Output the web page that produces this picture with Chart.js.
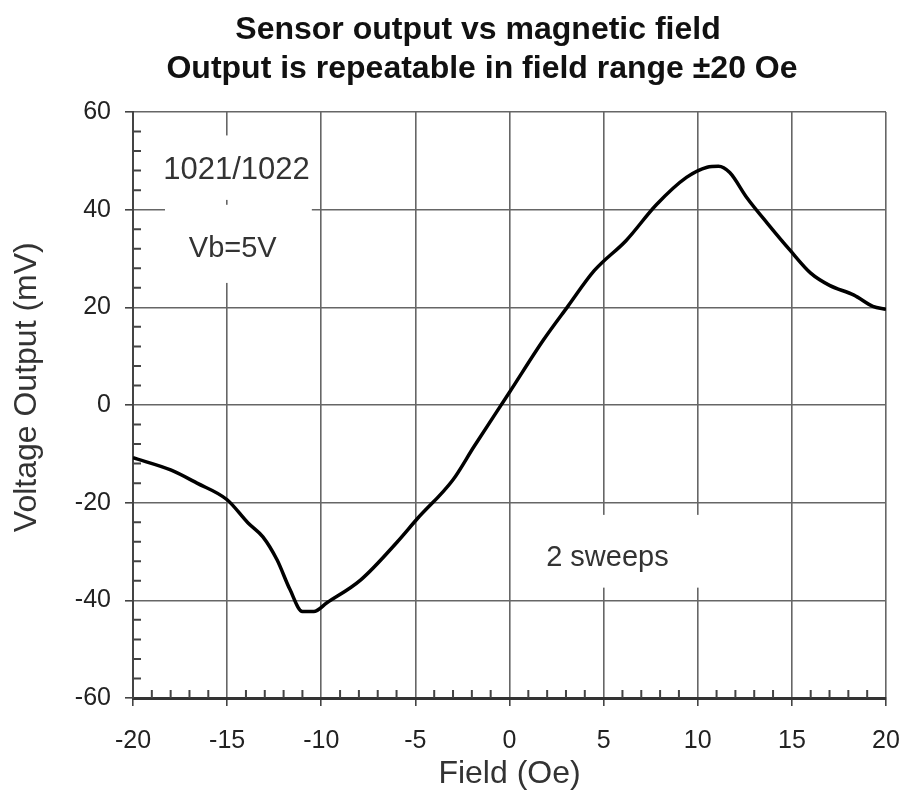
<!DOCTYPE html>
<html>
<head>
<meta charset="utf-8">
<script src="https://cdn.jsdelivr.net/npm/chart.js@4/dist/chart.umd.min.js"></script>
<style>
  html, body { margin: 0; padding: 0; background: #fff; }
  canvas { display: block; }
</style>
</head>
<body>
<canvas id="grafico" width="903" height="791"></canvas>
<script>
// ===== DADOS =====
const campo = [-20, -18, -16.6, -15, -13.9, -13.1, -12.35, -11.66, -11.0, -10.4, -9.7, -7.9, -6.0, -4.9, -3.0, -1.9, 0, 1.8, 3.1, 4.5, 6.2, 7.8, 9.4, 10.5, 11.1, 11.7, 12.6, 13.7, 14.9, 16.0, 17.0, 18.3, 19.3, 20];
const saida = [-10.8, -13.3, -16, -19.4, -24.1, -27, -31.7, -37.8, -42.3, -42.3, -40.5, -35.8, -28.2, -23.3, -15.3, -8.6, 2.6, 13.3, 20.2, 27.5, 33.7, 41, 46.6, 48.7, 48.9, 47.6, 42.5, 37.2, 31.7, 27, 24.5, 22.5, 20.2, 19.6];
const ticksX = [-20, -15, -10, -5, 0, 5, 10, 15, 20];
const ticksY = [-60, -40, -20, 0, 20, 40, 60];
const titulo = ["Sensor output vs magnetic field", "Output is repeatable in field range \u00B120 Oe"];

const fonte = "'Liberation Sans', Arial, sans-serif";

// notas no grafico (em unidades dos eixos)
const notas = [
    { texto: "1021/1022", x: -14.5, y: 48, caixa: [-18.3, -10.5, 55.2, 42.0], tam: 31 },
    { texto: "Vb=5V", x: -14.7, y: 32, caixa: [-18.3, -10.5, 41.0, 25.0], tam: 29 },
    { texto: "2 sweeps", x: 5.2, y: -31.3, caixa: [1.6, 11.2, -22.5, -37.4], tam: 29 }
];

// titulo em duas linhas, centrado um pouco a direita
const tituloPlugin = {
    id: "titulo",
    afterDraw(chart) {
        const { ctx } = chart;
        ctx.save();
        ctx.fillStyle = "#111";
        ctx.font = "bold 32px " + fonte;
        ctx.textAlign = "center";
        ctx.textBaseline = "middle";
        ctx.fillText(titulo[0], 478, 30);
        ctx.fillText(titulo[1], 482, 69);
        ctx.restore();
    }
};

const notasPlugin = {
    id: "notas",
    beforeDatasetsDraw(chart) {
        const { ctx, scales: { x, y } } = chart;
        ctx.save();
        notas.forEach(n => {
            const [x0, x1, y0, y1] = n.caixa;
            const px0 = x.getPixelForValue(x0), px1 = x.getPixelForValue(x1);
            const py0 = y.getPixelForValue(y0), py1 = y.getPixelForValue(y1);
            ctx.fillStyle = "#fff";
            ctx.fillRect(px0, py0, px1 - px0, py1 - py0);
            ctx.fillStyle = "#333";
            ctx.font = n.tam + "px " + fonte;
            ctx.textAlign = "center";
            ctx.textBaseline = "middle";
            ctx.fillText(n.texto, x.getPixelForValue(n.x), y.getPixelForValue(n.y));
        });
        ctx.restore();
    }
};

// tracinhos menores, para dentro
const minorPlugin = {
    id: "minor",
    afterDatasetsDraw(chart) {
        const { ctx, scales: { x, y }, chartArea } = chart;
        ctx.save();
        ctx.strokeStyle = "#444";
        ctx.lineWidth = 2;
        ctx.beginPath();
        for (let v = -19; v <= 19; v++) {
            if (v % 5 === 0) continue;
            const px = x.getPixelForValue(v);
            ctx.moveTo(px, chartArea.bottom);
            ctx.lineTo(px, chartArea.bottom - 8);
        }
        for (let v = -56; v <= 56; v += 4) {
            if (v % 20 === 0) continue;
            const py = y.getPixelForValue(v);
            ctx.moveTo(chartArea.left, py);
            ctx.lineTo(chartArea.left + 8, py);
        }
        ctx.stroke();
        ctx.restore();
    }
};

document.addEventListener("DOMContentLoaded", () => {
    const canvas = document.getElementById("grafico");

    new Chart(canvas, {
        type: "line",
        data: {
            datasets: [{
                data: campo.map((c, i) => ({ x: c, y: saida[i] })),
                borderColor: "#000",
                borderWidth: 3.5,
                pointRadius: 0,
                fill: false,
                cubicInterpolationMode: "monotone"
            }]
        },
        options: {
            responsive: false,
            animation: false,
            layout: { padding: { left: 0, right: 0, top: 112, bottom: 0 } },
            plugins: {
                legend: { display: false },
                tooltip: { enabled: false },
                title: { display: false }
            },
            scales: {
                x: {
                    type: "linear",
                    min: -20,
                    max: 20,
                    afterFit: s => { s.height = 93; s.paddingLeft = 0; s.paddingRight = 17; },
                    afterBuildTicks: s => { s.ticks = ticksX.map(v => ({ value: v })); },
                    grid: { color: "#666", lineWidth: 1.6, tickLength: 8, tickColor: "#444" },
                    border: { color: "#333", width: 3 },
                    ticks: { color: "#222", font: { family: fonte, size: 25 }, padding: 20, maxRotation: 0 },
                    title: { display: true, text: "Field (Oe)", color: "#333", font: { family: fonte, size: 32, lineHeight: 1 }, padding: { top: 0, bottom: 1 } }
                },
                y: {
                    min: -60,
                    max: 60,
                    afterFit: s => { s.width = 133; },
                    afterBuildTicks: s => { s.ticks = ticksY.map(v => ({ value: v })); },
                    grid: { color: "#666", lineWidth: 1.6, tickLength: 8, tickColor: "#444" },
                    border: { color: "#444", width: 2 },
                    ticks: { color: "#222", font: { family: fonte, size: 25 }, padding: 14 },
                    title: { display: true, text: "    Voltage Output (mV)", color: "#333", font: { family: fonte, size: 32, lineHeight: 1 }, padding: { top: 11, bottom: 0 } }
                }
            }
        },
        plugins: [notasPlugin, minorPlugin, tituloPlugin]
    });
});
</script>
</body>
</html>
